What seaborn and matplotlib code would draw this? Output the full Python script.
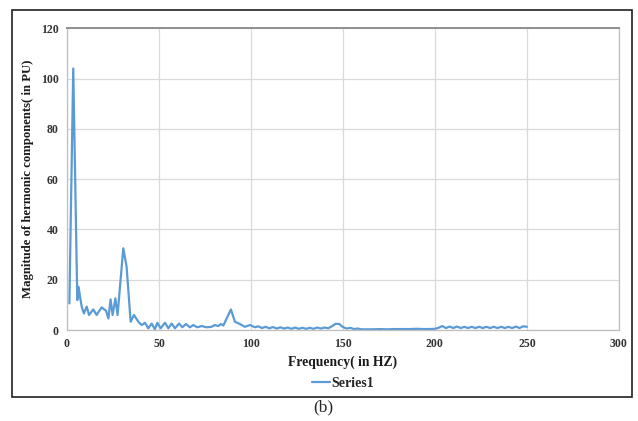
import matplotlib
matplotlib.use("Agg")
import matplotlib.pyplot as plt
import seaborn as sns
import pandas as pd
from matplotlib.patches import Rectangle

freq = [1.3, 3.4, 5.6, 6.3, 7.1, 8.0, 9.2, 10.7, 12.0, 14.3, 16.1, 18.8, 21.2, 22.5,
        23.7, 24.8, 26.3, 27.5, 30.6, 32.4, 34.6, 36.4, 38.8, 40.6, 42.4, 44.2, 46.0,
        47.8, 49.1, 50.9, 53.3, 55.1, 56.9, 58.7, 60.9, 62.7, 64.7, 66.8, 68.7, 70.8,
        73.2, 75.9, 78.6, 80.4, 82.2, 83.7, 85.0, 86.8, 89.1, 91.3, 94.0, 96.7, 99.5,
        102.2, 104, 106, 108, 110, 112, 114, 116, 118, 120, 122, 124, 126, 128, 130,
        132, 134, 136, 138, 140, 142, 144, 146, 148, 150, 152, 154, 156, 158, 160,
        163, 166, 170, 174, 178, 182, 186, 190, 194, 197, 200, 202, 204, 206, 208,
        210, 212, 214, 216, 218, 220, 222, 224, 226, 228, 230, 232, 234, 236, 238,
        240, 242, 244, 246, 248, 250]
magnitude = [10.6, 104.0, 11.9, 17.2, 13.2, 9.3, 6.6, 9.3, 6.0, 8.2, 6.0, 9.0, 7.7, 4.6,
             12.2, 6.0, 12.6, 6.0, 32.5, 25.2, 3.3, 6.0, 3.3, 2.0, 2.9, 0.7, 2.6,
             0.3, 2.9, 0.7, 2.9, 0.7, 2.6, 0.7, 2.6, 1.1, 2.4, 1.1, 2.0, 1.1,
             1.6, 1.1, 1.3, 2.0, 1.6, 2.4, 1.8, 4.6, 8.2, 3.3, 2.4, 1.3, 2.0,
             1.1, 1.5, 0.8, 1.3, 0.7, 1.2, 0.6, 1.1, 0.6, 1.0, 0.5, 1.0, 0.5, 0.9, 0.5,
             0.9, 0.5, 1.0, 0.6, 1.0, 0.7, 1.5, 2.5, 2.4, 1.2, 0.6, 0.9, 0.4, 0.6, 0.3,
             0.3, 0.3, 0.4, 0.3, 0.4, 0.4, 0.4, 0.5, 0.4, 0.4, 0.5, 0.9, 1.6, 0.8, 1.4,
             0.8, 1.4, 0.8, 1.3, 0.8, 1.3, 0.8, 1.3, 0.8, 1.3, 0.8, 1.3, 0.8, 1.3, 0.8,
             1.3, 0.8, 1.4, 0.8, 1.5, 1.3]

x_ticks = [0, 50, 100, 150, 200, 250, 300]
y_ticks = [0, 20, 40, 60, 80, 100, 120]
series_name = "Series1"

df = pd.DataFrame({"Frequency": freq, "Magnitude": magnitude, "Series": series_name})

sns.set_style("white")
plt.rcParams["font.family"] = ["Liberation Serif", "DejaVu Serif"]

fig = plt.figure(figsize=(6.38, 4.21), dpi=100)
ax = fig.add_axes([0.105, 0.216, 0.865, 0.717])

sns.lineplot(data=df, x="Frequency", y="Magnitude", hue="Series",
             palette=["#5B9BD5"], linewidth=1.6, ax=ax, legend=True)

ax.set_xlim(0, 300)
ax.set_ylim(0, 120)
ax.set_xticks(x_ticks)
ax.set_yticks(y_ticks)
ax.set_xticklabels([str(t) for t in x_ticks], fontsize=8.5, fontweight="bold", color="#333333")
ax.set_yticklabels([str(t) for t in y_ticks], fontsize=8.5, fontweight="bold", color="#333333")
ax.tick_params(length=0, pad=6)
ax.grid(True, color="#d9d9d9", linewidth=0.9)
for s in ax.spines.values():
    s.set_color("#bfbfbf")
    s.set_linewidth(0.9)
ax.spines["top"].set_color("#909090")
ax.spines["top"].set_linewidth(1.4)

ax.set_xlabel("Frequency( in HZ)", fontsize=9.8, fontweight="bold", labelpad=4, color="#1a1a1a")
ax.set_ylabel("Magnitude of hermonic components( in PU)", fontsize=9.2, fontweight="bold",
              labelpad=5, color="#1a1a1a")

leg = ax.legend(loc="upper center", bbox_to_anchor=(0.5, -0.115), frameon=False,
                prop={"weight": "bold", "size": 10, "family": "Liberation Serif"},
                handlelength=1.3, handletextpad=0.1)

fig.patches.append(Rectangle((12 / 638, 1 - 397 / 421), (632 - 12) / 638, (397 - 10) / 421,
                             transform=fig.transFigure, fill=False,
                             edgecolor="#202020", linewidth=1.2))
fig.text(323 / 638, 1 - 407 / 421, "(b)", ha="center", va="center", fontsize=12.5)

fig.savefig("out.png", dpi=100)
